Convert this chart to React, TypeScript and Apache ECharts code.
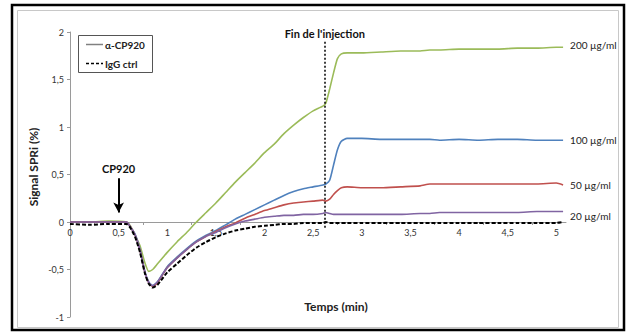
import React, { useEffect, useRef } from "react";
import * as echarts from "echarts";

const times = [0, 0.2, 0.4, 0.58, 0.62, 0.67, 0.72, 0.77, 0.81, 0.85, 0.9, 1.0, 1.1, 1.2, 1.3, 1.4, 1.5, 1.6, 1.7, 1.8, 1.9, 2.0, 2.1, 2.2, 2.3, 2.4, 2.5, 2.6, 2.63, 2.67, 2.71, 2.75, 2.79, 2.85, 3.0, 3.2, 3.4, 3.6, 3.7, 3.8, 4.0, 4.2, 4.4, 4.6, 4.8, 5.0, 5.07];

const s200 = [0, 0, 0.01, 0, -0.04, -0.14, -0.25, -0.43, -0.52, -0.5, -0.44, -0.32, -0.21, -0.11, 0.0, 0.1, 0.2, 0.31, 0.42, 0.52, 0.62, 0.73, 0.82, 0.93, 1.02, 1.1, 1.17, 1.22, 1.25, 1.4, 1.57, 1.72, 1.77, 1.78, 1.78, 1.79, 1.8, 1.8, 1.81, 1.81, 1.82, 1.82, 1.82, 1.83, 1.83, 1.84, 1.84];
const s100 = [0, 0, 0, 0, -0.05, -0.13, -0.29, -0.52, -0.63, -0.67, -0.63, -0.47, -0.37, -0.28, -0.2, -0.14, -0.09, -0.03, 0.03, 0.08, 0.13, 0.18, 0.23, 0.28, 0.32, 0.35, 0.37, 0.39, 0.4, 0.44, 0.6, 0.76, 0.85, 0.88, 0.88, 0.87, 0.87, 0.87, 0.87, 0.86, 0.87, 0.86, 0.87, 0.87, 0.86, 0.86, 0.86];
const s50 = [0, 0, 0, 0, -0.05, -0.14, -0.3, -0.53, -0.64, -0.68, -0.64, -0.48, -0.38, -0.29, -0.21, -0.15, -0.1, -0.05, -0.01, 0.04, 0.08, 0.12, 0.15, 0.18, 0.2, 0.21, 0.22, 0.23, 0.22, 0.24, 0.29, 0.33, 0.36, 0.37, 0.36, 0.36, 0.37, 0.38, 0.4, 0.4, 0.4, 0.4, 0.4, 0.4, 0.4, 0.41, 0.39];
const s20 = [0, 0, 0, 0, -0.05, -0.14, -0.3, -0.53, -0.64, -0.67, -0.63, -0.48, -0.38, -0.29, -0.21, -0.15, -0.11, -0.06, -0.02, 0.01, 0.03, 0.05, 0.06, 0.07, 0.07, 0.08, 0.08, 0.09, 0.1, 0.09, 0.08, 0.08, 0.08, 0.08, 0.08, 0.08, 0.08, 0.09, 0.09, 0.1, 0.1, 0.1, 0.1, 0.1, 0.11, 0.11, 0.11];
const igg = [-0.02, -0.03, -0.02, -0.02, -0.06, -0.16, -0.32, -0.54, -0.65, -0.69, -0.66, -0.53, -0.44, -0.35, -0.27, -0.21, -0.16, -0.12, -0.09, -0.07, -0.05, -0.04, -0.03, -0.02, -0.02, -0.01, -0.01, -0.01, 0.0, -0.01, -0.01, -0.01, -0.01, -0.01, -0.01, -0.01, -0.01, -0.01, -0.01, -0.01, -0.01, -0.01, -0.01, -0.01, -0.01, -0.01, 0.0];

const seriesNames = ["200 µg/ml", "100 µg/ml", "50 µg/ml", "20 µg/ml"];
const seriesColors = ["#9bbb59", "#4f81bd", "#c0504d", "#8064a2"];
const legendLabels = ["α-CP920", "IgG ctrl"];
const injectionEnd = 2.62;
const cp920Time = 0.5;
const yMin = -1;
const yMax = 2;

const FONT = "Lato, 'Open Sans', sans-serif";
const GRID_TOP = 32;
const GRID_BOTTOM = 15;
const CHART_H = 332;

const fmt = (v: number) => {
  const r = Math.round(v * 100) / 100;
  if (Math.abs((r * 2) - Math.round(r * 2)) > 1e-6) return "";
  return String(r).replace(".", ",");
};

export default function App() {
  const ref = useRef<HTMLDivElement>(null);
  useEffect(() => {
    if (!ref.current) return;
    const chart = echarts.init(ref.current, null, { renderer: "svg" });
    const pairs = (ys: number[]) => times.map((t, i) => [t, ys[i]]);
    // shift the x axis up so it crosses the y axis at zero
    const plotH = CHART_H - GRID_TOP - GRID_BOTTOM;
    const zeroOffset = -plotH * (0 - yMin) / (yMax - yMin);
    const colored = [s200, s100, s50, s20].map((ys, k) => {
      const s: any = {
        type: "line",
        name: seriesNames[k],
        data: pairs(ys),
        showSymbol: false,
        symbol: "none",
        smooth: 0.2,
        lineStyle: { color: seriesColors[k], width: 1.6 },
        itemStyle: { color: seriesColors[k] },
        endLabel: {
          show: true,
          formatter: seriesNames[k],
          distance: 7,
          fontSize: 10,
          color: "#222",
          fontFamily: FONT,
          offset: [0, k === 3 ? 4 : k === 0 ? -2 : 0],
        },
      };
      return s;
    });
    colored[0].markLine = {
      silent: true,
      symbol: ["none", "arrow"],
      symbolSize: [8, 10],
      lineStyle: { color: "#000", width: 2, type: "solid" },
      label: {
        show: true,
        position: "start",
        formatter: "CP920",
        fontWeight: "bold",
        fontSize: 11,
        color: "#111",
        fontFamily: FONT,
        distance: 4,
      },
      data: [[{ coord: [cp920Time, 0.46] }, { coord: [cp920Time, 0.1] }]],
    };
    colored[3].markLine = {
      silent: true,
      symbol: ["none", "none"],
      lineStyle: { color: "#000", width: 1.5, type: [2, 2] },
      label: {
        show: true,
        position: "end",
        formatter: "Fin de l'injection",
        fontWeight: "bold",
        fontSize: 11,
        color: "#111",
        fontFamily: FONT,
        distance: 3,
      },
      data: [[{ coord: [injectionEnd, -0.06] }, { coord: [injectionEnd, 1.9] }]],
    };
    const option: any = {
      animation: false,
      textStyle: { fontFamily: FONT },
      grid: { left: 70, right: 62, top: GRID_TOP, bottom: GRID_BOTTOM, containLabel: false },
      xAxis: {
        type: "value",
        min: 0,
        max: 5.1,
        interval: 0.5,
        position: "bottom",
        offset: zeroOffset,
        axisLine: { onZero: false, lineStyle: { color: "#9a9a9a", width: 1 } },
        axisTick: { show: false },
        minorTick: { show: true, splitNumber: 2, length: 3, lineStyle: { color: "#9a9a9a" } },
        splitLine: { show: false },
        axisLabel: { formatter: fmt, fontSize: 9, color: "#333", margin: 6, fontFamily: FONT },
      },
      yAxis: {
        type: "value",
        min: yMin,
        max: yMax,
        interval: 0.5,
        axisLine: { show: true, onZero: false, lineStyle: { color: "#9a9a9a", width: 1 } },
        axisTick: { show: true, length: 3, lineStyle: { color: "#9a9a9a" } },
        splitLine: { show: false },
        axisLabel: { formatter: fmt, fontSize: 9, color: "#333", margin: 6, fontFamily: FONT },
      },
      series: [
        ...colored,
        {
          type: "line",
          name: legendLabels[1],
          data: pairs(igg),
          showSymbol: false,
          symbol: "none",
          smooth: 0.2,
          lineStyle: { color: "#000", width: 2, type: [4, 2] },
        },
      ],
      graphic: [
        { type: "rect", shape: { x: 12, y: 5, width: 612, height: 325 }, style: { fill: "none", stroke: "#000", lineWidth: 2.5 }, silent: true },
        { type: "rect", shape: { x: 17.5, y: 10.5, width: 601, height: 317 }, style: { fill: "none", stroke: "#c8c8c8", lineWidth: 1 }, silent: true },
        { type: "rect", shape: { x: 78.5, y: 35.5, width: 74, height: 37 }, style: { fill: "#fff", stroke: "#555", lineWidth: 1 }, z: 10 },
        { type: "line", shape: { x1: 86, y1: 44.5, x2: 103, y2: 44.5 }, style: { stroke: "#808080", lineWidth: 1.5 }, z: 11 },
        { type: "text", x: 105, y: 44.5, style: { text: legendLabels[0], font: `bold 10px ${FONT}`, fill: "#222", verticalAlign: "middle", align: "left" }, z: 11 },
        { type: "line", shape: { x1: 86, y1: 63.5, x2: 103, y2: 63.5 }, style: { stroke: "#000", lineWidth: 1.5, lineDash: [3, 2] }, z: 11 },
        { type: "text", x: 105, y: 63.5, style: { text: legendLabels[1], font: `bold 10px ${FONT}`, fill: "#222", verticalAlign: "middle", align: "left" }, z: 11 },
        { type: "text", x: 33, y: 167, rotation: Math.PI / 2, style: { text: "Signal SPRi (%)", font: `bold 12px ${FONT}`, fill: "#222", align: "center", verticalAlign: "middle" } },
        { type: "text", x: 336, y: 306, style: { text: "Temps (min)", font: `bold 12px ${FONT}`, fill: "#222", align: "center", verticalAlign: "middle" } },
      ],
    };
    chart.setOption(option);
    return () => chart.dispose();
  }, []);
  return (
    <div
      ref={ref}
      style={{ position: "fixed", left: 0, top: 0, width: 628, height: 332, background: "#fff" }}
    />
  );
}
